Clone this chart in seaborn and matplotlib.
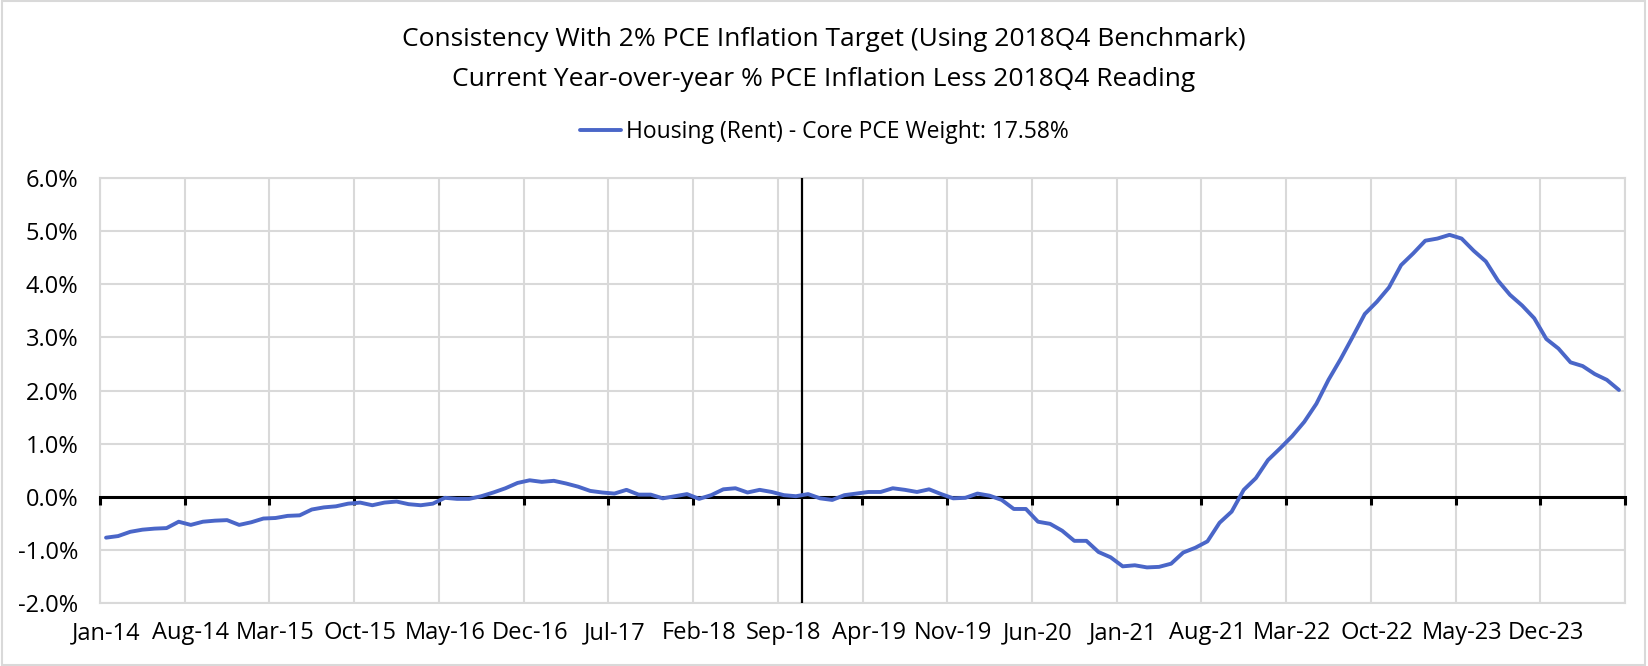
import numpy as np
import pandas as pd
import matplotlib
matplotlib.use("Agg")
import matplotlib.pyplot as plt
from matplotlib.ticker import FuncFormatter
from matplotlib.patches import Rectangle
import seaborn as sns

# ---------------- data ----------------
months = pd.date_range("2014-01-01", "2024-06-01", freq="MS")

values = [
    -0.77, -0.74, -0.66, -0.62, -0.60, -0.59, -0.47, -0.53, -0.47, -0.45,
    -0.44, -0.53, -0.48, -0.41, -0.40, -0.36, -0.35, -0.24, -0.20, -0.18,
    -0.13, -0.11, -0.16, -0.11, -0.09, -0.14, -0.16, -0.13, -0.02, -0.04,
    -0.04, 0.01, 0.08, 0.16, 0.26, 0.31, 0.28, 0.30, 0.25, 0.19,
    0.11, 0.08, 0.06, 0.13, 0.04, 0.04, -0.03, 0.01, 0.05, -0.04,
    0.03, 0.14, 0.16, 0.08, 0.13, 0.09, 0.03, 0.01, 0.05, -0.03,
    -0.06, 0.03, 0.06, 0.09, 0.09, 0.16, 0.13, 0.09, 0.14, 0.05,
    -0.03, -0.02, 0.06, 0.02, -0.06, -0.23, -0.23, -0.47, -0.51, -0.64,
    -0.83, -0.83, -1.04, -1.14, -1.31, -1.29, -1.33, -1.32, -1.26, -1.05,
    -0.96, -0.84, -0.49, -0.28, 0.13, 0.35, 0.69, 0.91, 1.14, 1.41,
    1.75, 2.20, 2.59, 3.01, 3.44, 3.67, 3.94, 4.36, 4.58, 4.82,
    4.86, 4.93, 4.86, 4.63, 4.43, 4.07, 3.80, 3.60, 3.36, 2.97,
    2.79, 2.53, 2.46, 2.31, 2.20, 2.01,
]

tick_labels = ["Jan-14", "Aug-14", "Mar-15", "Oct-15", "May-16", "Dec-16",
               "Jul-17", "Feb-18", "Sep-18", "Apr-19", "Nov-19", "Jun-20",
               "Jan-21", "Aug-21", "Mar-22", "Oct-22", "May-23", "Dec-23"]
label_every = 7

title_lines = ["Consistency With 2% PCE Inflation Target (Using 2018Q4 Benchmark)",
               "Current Year-over-year % PCE Inflation Less 2018Q4 Reading"]
series_name = "Housing (Rent) - Core PCE Weight: 17.58%"
benchmark_month = "2018-11"   # vertical marker sits at the start of this month's slot

y_min, y_max, y_step = -2, 6, 1

# ---------------- style ----------------
sns.set_theme(style="white")
plt.rcParams["font.family"] = ["Open Sans", "DejaVu Sans"]
plt.rcParams["text.color"] = "black"
line_color = "#4A66C8"
grid_color = "#d9d9d9"

df = pd.DataFrame({"idx": np.arange(len(values)), "value": values,
                   "series": series_name})
n = len(values)

W, H = 1648, 666
fig = plt.figure(figsize=(W / 100, H / 100), dpi=100)
ax = fig.add_axes([100 / W, 1 - 603 / H, 1525 / W, 425 / H])

sns.lineplot(data=df, x="idx", y="value", hue="series", palette=[line_color],
             linewidth=2.8, ax=ax, zorder=5)

ax.set_xlim(-0.5, n - 0.5)
ax.set_ylim(y_min, y_max)
ax.set_yticks(np.arange(y_min, y_max + y_step, y_step))
ax.yaxis.set_major_formatter(FuncFormatter(lambda v, p: f"{v:.1f}%"))

boundaries = np.arange(-0.5, n, label_every)
ax.set_xticks(boundaries)
ax.set_xticklabels([])
ax.set_xticks(np.arange(0, n, label_every)[:len(tick_labels)], minor=True)
ax.set_xticklabels(tick_labels, minor=True)
ax.tick_params(axis="x", which="both", length=0)
ax.tick_params(axis="x", which="minor", pad=13, labelsize=17, colors="black")
ax.tick_params(axis="y", length=0, pad=15.5, labelsize=17, colors="black")
ax.set_xlabel("")
ax.set_ylabel("")

ax.grid(True, which="major", color=grid_color, linewidth=1.5)
for s in ax.spines.values():
    s.set_color(grid_color)
    s.set_linewidth(1.5)

# zero axis line with tick marks
sec = ax.secondary_xaxis((0 - y_min) / (y_max - y_min))
sec.set_zorder(4)
sec.spines["bottom"].set_color("black")
sec.spines["bottom"].set_linewidth(2.2)
sec.spines["bottom"].set_zorder(4)
sec.set_xticks(boundaries)
sec.tick_params(axis="x", direction="out", length=6, width=2.2, color="black",
                labelbottom=False, labeltop=False)

# benchmark vertical line
bench_x = list(months.strftime("%Y-%m")).index(benchmark_month) - 0.5
ax.axvline(bench_x, color="black", linewidth=1.6, zorder=3)

# legend
handles, labels = ax.get_legend_handles_labels()
ax.legend(handles, labels, loc="center", bbox_to_anchor=(0.5, 1 - 132 / H),
          bbox_transform=fig.transFigure, frameon=False, fontsize=16.5,
          handlelength=1.8, handletextpad=0.2)

# titles
fig.text(0.5, 1 - 40 / H, title_lines[0], ha="center", va="center", fontsize=19)
fig.text(0.5, 1 - 80 / H, title_lines[1], ha="center", va="center", fontsize=19)

# chart border
fig.patches.append(Rectangle((0.001, 0.002), 0.997, 0.996, transform=fig.transFigure,
                             fill=False, edgecolor=grid_color, linewidth=1.5))

fig.savefig("out.png", dpi=100)
